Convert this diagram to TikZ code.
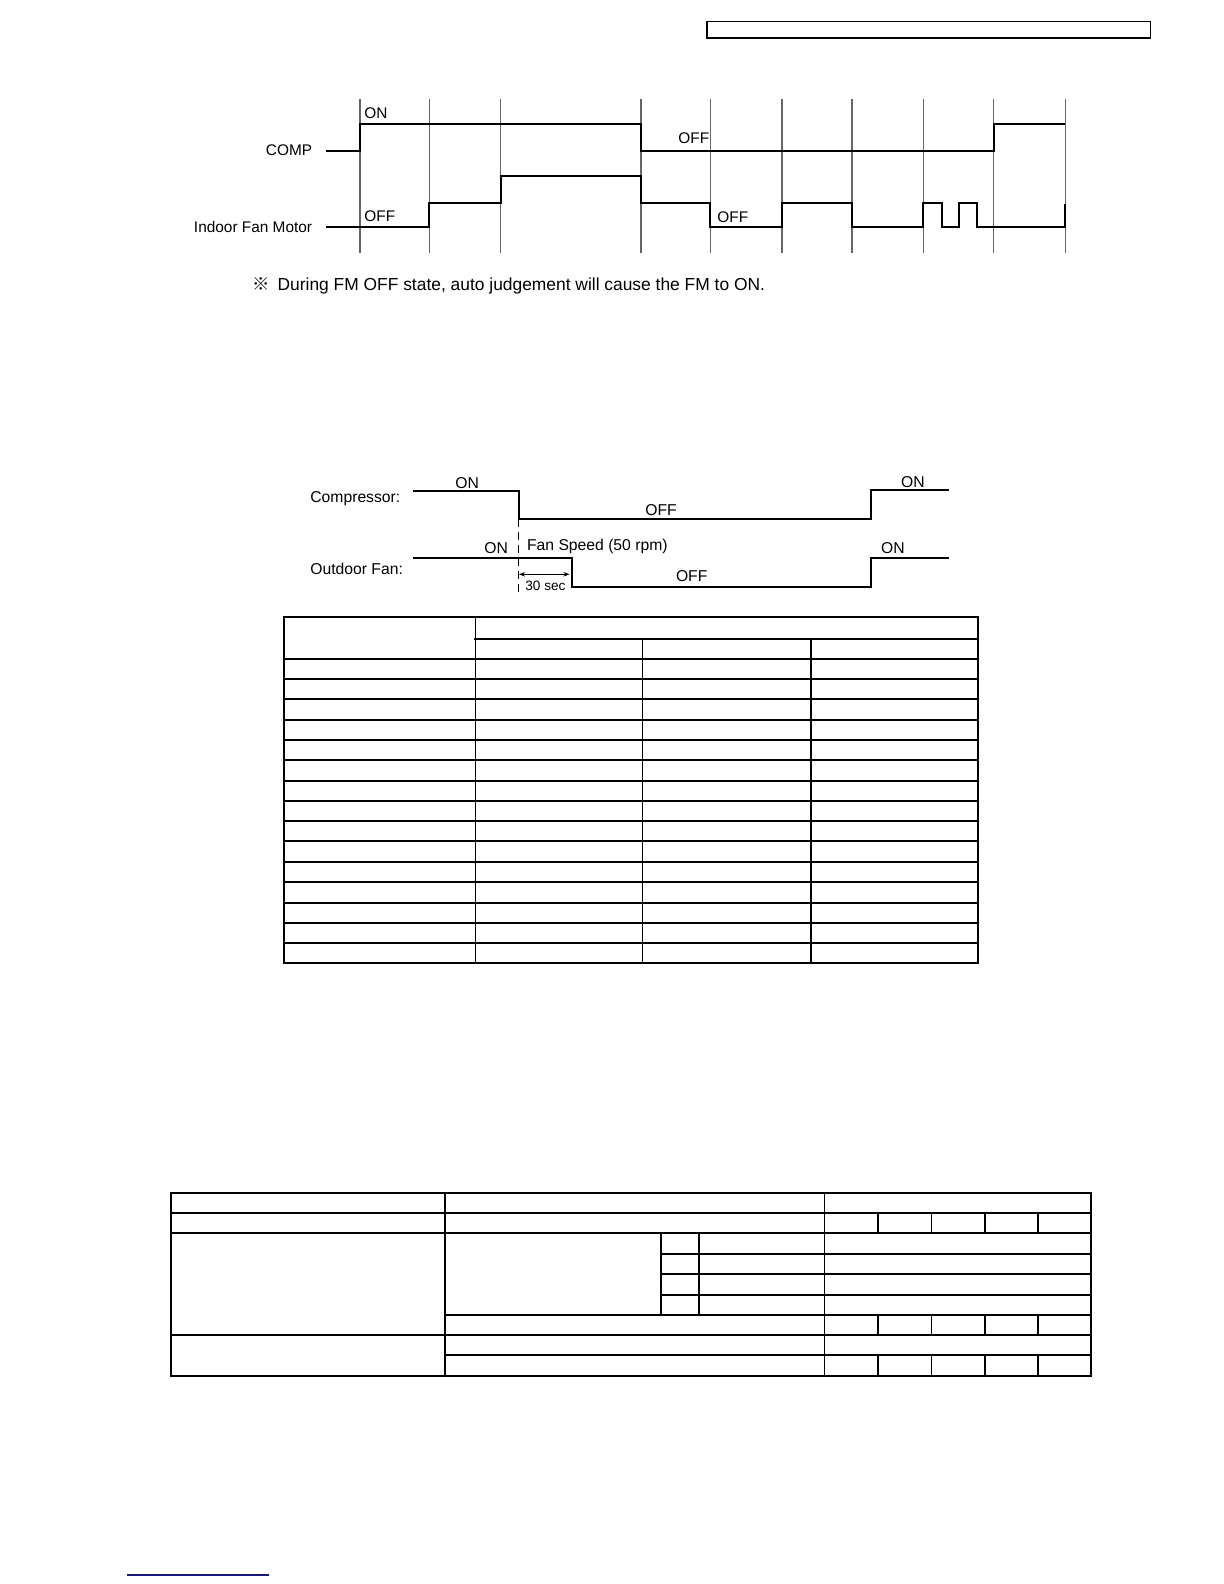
\documentclass[tikz,border=0pt]{standalone}
\usepackage{fontspec}
\setmainfont{Liberation Sans}
\newfontfamily\cjkfont{Noto Sans CJK JP}
\usetikzlibrary{arrows.meta}
\tikzset{
  sig/.style={line width=1.05pt, black, line join=miter},
  grid/.style={line width=0.55pt, black!60},
  tbl/.style={line width=0.9pt, black},
  lbl/.style={inner sep=0pt, font=\fontsize{7.7pt}{9pt}\selectfont},
  lblm/.style={inner sep=0pt, font=\fontsize{7.85pt}{9pt}\selectfont},
  lbls/.style={inner sep=0pt, font=\fontsize{6.8pt}{8pt}\selectfont},
  notetxt/.style={inner sep=0pt, font=\fontsize{8.7pt}{10pt}\selectfont},
}
\begin{document}
\begin{tikzpicture}[x=0.5pt,y=-0.5pt]
\useasboundingbox (0,0) rectangle (1224,1584);
\fill[white] (0,0) rectangle (1224,1584);

% header box
\draw[tbl] (707,21.5) rectangle (1150.5,38.3);

% ---------- top timing chart ----------
\foreach \xx in {360,429.3,500.7,641,710.3,782,852,923.3,993.7,1065.3}
  \draw[grid] (\xx,99.3) -- (\xx,253);
\draw[sig] (326,150.7) -- (360,150.7) -- (360,124) -- (641,124) -- (641,150.7)
  -- (993.7,150.7) -- (993.7,124) -- (1065,124);
\draw[sig] (326,227.3) -- (429.3,227.3) -- (429.3,202.7) -- (500.7,202.7) -- (500.7,176)
  -- (641,176) -- (641,202.7) -- (710.3,202.7) -- (710.3,227.3) -- (782,227.3)
  -- (782,202.7) -- (852,202.7) -- (852,227.3) -- (923.3,227.3) -- (923.3,202.7)
  -- (941.7,202.7) -- (941.7,227.3) -- (959,227.3) -- (959,202.7) -- (977.3,202.7)
  -- (977.3,227.3) -- (1065.3,227.3) -- (1065.3,204);
\node[lbl, anchor=base east] (comp) at (312.5,155.7) {COMP};
\node[lbl, anchor=base east] (ifm) at (312.5,232.7) {Indoor Fan Motor};
\node[lbl, anchor=base west] (on1) at (364,118.5) {ON};
\node[lbl, anchor=base west] (off1) at (364,221.7) {OFF};
\node[lbl, anchor=base west] (off2) at (678,143.3) {OFF};
\node[lbl, anchor=base west] (off3) at (717,222.7) {OFF};

\node[notetxt, anchor=base west] (note) at (252,290.5)
  {{\cjkfont ※}\hspace{0.45em}During FM OFF state, auto judgement will cause the FM to ON.};

% ---------- middle timing chart ----------
\draw[sig] (413,491) -- (518.7,491) -- (518.7,519.3) -- (870.7,519.3) -- (870.7,490.3) -- (949.3,490.3);
\draw[sig] (413,558) -- (572.3,558) -- (572.3,586.7) -- (870.7,586.7) -- (870.7,558) -- (949.3,558);
\draw[line width=0.5pt, dash pattern=on 4pt off 2.5pt] (518.7,519.3) -- (518.7,592);
\coordinate (a1) at (519,574.3);
\coordinate (a2) at (569.5,574.3);
\draw[line width=0.4pt, {Stealth[length=3pt,width=2.2pt]}-{Stealth[length=3pt,width=2.2pt]}] (a1) -- (a2);
\node[lblm, anchor=base west] (compr) at (310,502) {Compressor:};
\node[lblm, anchor=base west] (ofan) at (310,574.5) {Outdoor Fan:};
\node[lblm, anchor=base west] (on2) at (455,488) {ON};
\node[lblm, anchor=base west] (off4) at (645,515.5) {OFF};
\node[lblm, anchor=base west] (on3) at (484,553.5) {ON};
\node[lblm, anchor=base west] (fs) at (526.7,550.5) {Fan Speed (50 rpm)};
\node[lbls, anchor=base west] (sec) at (525,590.3) {30 sec};
\node[lblm, anchor=base west] (off5) at (675.6,581) {OFF};
\node[lblm, anchor=base west] (on4) at (900.7,487.5) {ON};
\node[lblm, anchor=base west] (on5) at (880.7,553.5) {ON};

% ---------- table 1 ----------
\draw[tbl] (283.8,617.3) rectangle (977.6,963.3);
\draw[tbl] (475.5,617.3) -- (475.5,963.3);
\draw[tbl] (474,639) -- (977.6,639);
\draw[tbl] (642.5,639) -- (642.5,963.3);
\draw[tbl] (811,639) -- (811,963.3);
\foreach \yy in {659,679,699.3,719.7,739.7,760.3,780.7,800.7,821,841.3,861.7,882,902.7,922.7,942.7}
  \draw[tbl] (283.8,\yy) -- (977.6,\yy);

% ---------- table 2 ----------
\draw[tbl] (170.8,1192.7) rectangle (1091,1375.7);
\draw[tbl] (444.8,1192.7) -- (444.8,1375.7);
\draw[tbl] (824.5,1192.7) -- (824.5,1375.7);
\draw[tbl] (170.8,1212.7) -- (1091,1212.7);
\draw[tbl] (170.8,1233.3) -- (1091,1233.3);
\draw[tbl] (661,1253.7) -- (1091,1253.7);
\draw[tbl] (661,1274.3) -- (1091,1274.3);
\draw[tbl] (661,1294.7) -- (1091,1294.7);
\draw[tbl] (444.8,1314.7) -- (1091,1314.7);
\draw[tbl] (170.8,1334.7) -- (1091,1334.7);
\draw[tbl] (444.8,1355.3) -- (1091,1355.3);
\draw[tbl] (661,1233.3) -- (661,1314.7);
\draw[tbl] (699.2,1233.3) -- (699.2,1314.7);
\foreach \xx in {877.6,931.5,985.2,1038.3} {
  \draw[tbl] (\xx,1212.7) -- (\xx,1233.3);
  \draw[tbl] (\xx,1314.7) -- (\xx,1334.7);
  \draw[tbl] (\xx,1355.3) -- (\xx,1375.7);
}

% footer link underline
\draw[line width=0.6pt, color={rgb,255:red,25;green,25;blue,125}] (127.3,1575) -- (268.7,1575);
\end{tikzpicture}
\end{document}
